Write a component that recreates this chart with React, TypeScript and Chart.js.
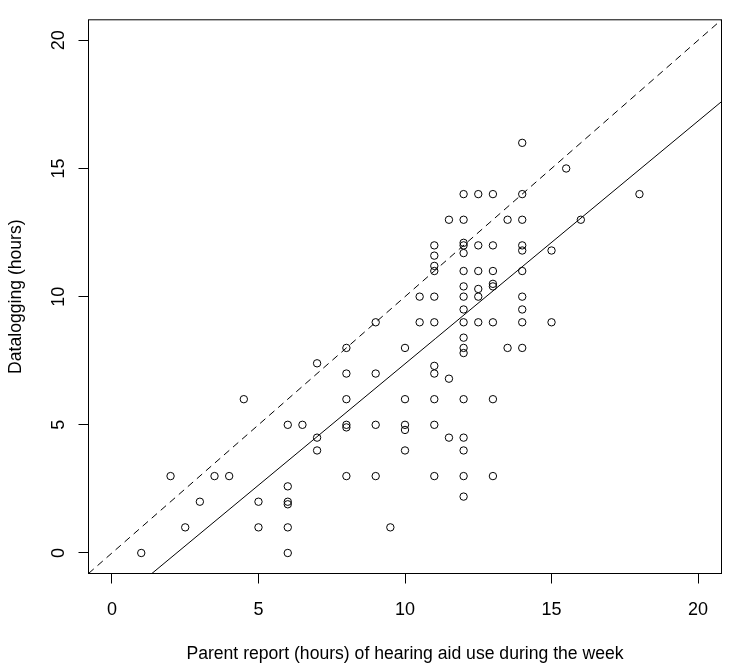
import React, { useEffect, useRef } from "react";
import { Chart, registerables } from "chart.js";

Chart.register(...registerables);

// Parent report (hours) of hearing aid use during the week
const parentHours = [
  1, 2, 2.5, 3, 3.5, 4, 4.5, 5, 5, 6, 6, 6, 6, 6, 6, 6.5, 7, 7, 7,
  8, 8, 8, 8, 8, 8, 9, 9, 9, 9, 9.5, 10, 10, 10, 10, 10, 10.5, 10.5,
  11, 11, 11, 11, 11, 11, 11, 11, 11, 11, 11, 11.5, 11.5, 11.5,
  12, 12, 12, 12, 12, 12, 12, 12, 12, 12, 12, 12, 12, 12, 12, 12, 12, 12,
  12.5, 12.5, 12.5, 12.5, 12.5, 12.5,
  13, 13, 13, 13, 13, 13, 13, 13, 13.5, 13.5,
  14, 14, 14, 14, 14, 14, 14, 14, 14, 14,
  15, 15, 15.5, 16, 18,
];
// Datalogging (hours)
const dataloggingHours = [
  0, 3, 1, 2, 3, 3, 6, 2, 1, 5, 2.6, 2, 1.9, 1, 0, 5, 7.4, 4.5, 4,
  8, 7, 6, 5, 4.9, 3, 9, 7, 5, 3, 1, 8, 6, 5, 4.8, 4, 10, 9,
  12, 11.6, 11.2, 11, 10, 9, 7.3, 7, 6, 5, 3, 13, 6.8, 4.5,
  14, 13, 12.1, 12, 11.7, 11, 10.4, 10, 9.5, 9, 8.4, 8, 7.8, 6, 4.5, 4, 3, 2.2,
  14, 12, 11, 10.3, 10, 9,
  14, 12, 11, 10.5, 10.4, 9, 6, 3, 13, 8,
  16, 14, 13, 12, 11.8, 11, 10, 9.5, 9, 8,
  11.8, 9, 15, 13, 14,
];

const xTickValues = [0, 5, 10, 15, 20];
const yTickValues = [0, 5, 10, 15, 20];
const axisMin = -0.8;
const axisMax = 20.8;

// Fitted regression line (solid) and identity line (dashed)
const regIntercept = -2.09;
const regSlope = 0.947;

const xTitle = "Parent report (hours) of hearing aid use during the week";
const yTitle = "Datalogging (hours)";

const FONT = "'Liberation Sans', Arial, sans-serif";

export default function App() {
  const ref = useRef<HTMLCanvasElement | null>(null);

  useEffect(() => {
    if (!ref.current) return;
    const points = parentHours.map((x, i) => ({ x, y: dataloggingHours[i] }));
    const identity = [
      { x: axisMin, y: axisMin },
      { x: axisMax, y: axisMax },
    ];
    const regression = [
      { x: axisMin, y: regIntercept + regSlope * axisMin },
      { x: axisMax, y: regIntercept + regSlope * axisMax },
    ];

    const boxPlugin = {
      id: "box",
      afterDraw(chart: any) {
        const { ctx, chartArea } = chart;
        ctx.save();
        ctx.strokeStyle = "#000";
        ctx.lineWidth = 1;
        ctx.strokeRect(
          chartArea.left,
          chartArea.top,
          chartArea.right - chartArea.left,
          chartArea.bottom - chartArea.top
        );
        ctx.restore();
      },
    };

    const chart = new Chart(ref.current, {
      type: "scatter",
      data: {
        datasets: [
          {
            type: "line",
            data: identity,
            borderColor: "#000",
            borderWidth: 1,
            borderDash: [7, 5],
            pointRadius: 0,
            fill: false,
          } as any,
          {
            type: "line",
            data: regression,
            borderColor: "#000",
            borderWidth: 1,
            pointRadius: 0,
            fill: false,
          } as any,
          {
            type: "scatter",
            data: points,
            pointStyle: "circle",
            pointRadius: 3.7,
            borderWidth: 1,
            borderColor: "#000",
            backgroundColor: "rgba(0,0,0,0)",
          } as any,
        ],
      },
      options: {
        animation: false,
        responsive: false,
        maintainAspectRatio: false,
        events: [],
        layout: { padding: { top: 7, right: 7.5, left: 0, bottom: 0 } },
        plugins: { legend: { display: false }, tooltip: { enabled: false } },
        scales: {
          x: {
            type: "linear",
            min: axisMin,
            max: axisMax,
            afterBuildTicks: (s: any) => {
              s.ticks = xTickValues.map((v) => ({ value: v }));
            },
            afterFit: (s: any) => {
              s.height = 97.5;
            },
            border: { display: false },
            grid: {
              display: true,
              drawOnChartArea: false,
              drawTicks: true,
              tickLength: 10,
              tickColor: "#000",
              color: "#000",
            },
            ticks: {
              color: "#000",
              font: { family: FONT, size: 18 },
              padding: 16,
              maxRotation: 0,
              minRotation: 0,
              callback: (v: any) => String(v),
            },
            title: {
              display: true,
              text: xTitle,
              color: "#000",
              font: { family: FONT, size: 17.6 },
              padding: { top: 0, bottom: 6 },
            },
          },
          y: {
            type: "linear",
            min: axisMin,
            max: axisMax,
            afterBuildTicks: (s: any) => {
              s.ticks = yTickValues.map((v) => ({ value: v }));
            },
            afterFit: (s: any) => {
              s.width = 88.5;
            },
            border: { display: false },
            grid: {
              display: true,
              drawOnChartArea: false,
              drawTicks: true,
              tickLength: 10,
              tickColor: "#000",
              color: "#000",
            },
            ticks: {
              color: "#000",
              font: { family: FONT, size: 18 },
              padding: 9,
              minRotation: 90,
              maxRotation: 90,
              crossAlign: "center",
              callback: (v: any) => String(v),
            },
            title: {
              display: true,
              text: yTitle,
              color: "#000",
              font: { family: FONT, size: 17.6 },
              padding: { top: 6, bottom: 0 },
            },
          },
        },
      },
      plugins: [boxPlugin],
    } as any);

    return () => chart.destroy();
  }, []);

  return (
    <div style={{ position: "fixed", left: 0, top: 0, width: 729, height: 671, background: "#fff" }}>
      <canvas ref={ref} width={729} height={671} style={{ width: 729, height: 671 }} />
    </div>
  );
}
